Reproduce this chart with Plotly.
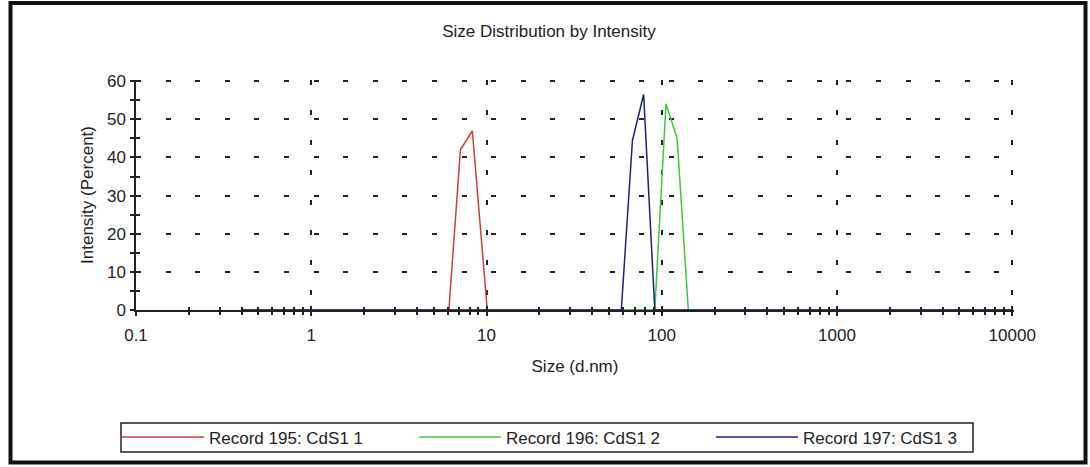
import plotly.graph_objects as go

# ---- data ----
size_195 = [0.4, 6.1, 7.1, 8.3, 10.1, 10000]
int_195 = [0, 0, 42, 47, 0, 0]

size_196 = [0.4, 91.28, 105.7, 122.4, 141.8, 10000]
int_196 = [0, 0, 54, 45, 0, 0]

size_197 = [0.4, 58.77, 68.06, 78.82, 91.28, 10000]
int_197 = [0, 0, 44.5, 56.5, 0, 0]

names = ["Record 195: CdS1 1", "Record 196: CdS1 2", "Record 197: CdS1 3"]
colors = ["#c8403c", "#3cc83c", "#1e1e78"]

x_ticks = [0.1, 1, 10, 100, 1000, 10000]
x_ticktext = ["0.1", "1", "10", "100", "1000", "10000"]
y_ticks = [0, 10, 20, 30, 40, 50, 60]
y_minor = [5, 15, 25, 35, 45, 55]
x_minor = [m * d for d in (0.1, 1, 10, 100, 1000) for m in range(2, 10)]

X_RANGE = [-1, 4.01]
Y_RANGE = [0, 60.3]

W, H = 1090, 467
L, R, T, B = 136, 76, 80, 157
PW, PH = W - L - R, H - T - B


def px_x(px):
    return (px - L) / PW


def px_y(py):
    return (H - B - py) / PH


INK = "#222222"

fig = go.Figure()
series = [(size_195, int_195), (size_196, int_196), (size_197, int_197)]
for (xs, ys), nm, col in zip(series, names, colors):
    fig.add_trace(go.Scatter(x=xs, y=ys, mode="lines", name=nm,
                             line=dict(color=col, width=1.5)))
fig.data[2].legendwidth = 165

# invisible helper trace for the overlay axes (crossing ticks)
fig.add_trace(go.Scatter(x=[], y=[], xaxis="x2", yaxis="y2", showlegend=False,
                         hoverinfo="skip"))

fig.update_layout(
    width=W, height=H,
    margin=dict(l=L, r=R, t=T, b=B, pad=0, autoexpand=False),
    paper_bgcolor="white", plot_bgcolor="white",
    font=dict(family="Liberation Sans, Arial, sans-serif", size=17, color=INK),
    title=dict(text="Size Distribution by Intensity", x=549 / W, xanchor="center",
               y=1 - 31 / H, yanchor="middle", yref="container",
               font=dict(size=17, color=INK)),
    showlegend=True,
    legend=dict(orientation="h", xref="container", yref="container",
                x=117 / W, xanchor="left", y=1 - 437.5 / H, yanchor="middle",
                borderwidth=0, bgcolor="rgba(0,0,0,0)",
                itemwidth=82, entrywidth=200, font=dict(size=17, color=INK),
                tracegroupgap=0),
    xaxis=dict(type="log", range=X_RANGE, tickvals=x_ticks, ticktext=x_ticktext,
               ticks="outside", ticklen=4, tickwidth=1.5, tickcolor=INK,
               showline=True, linecolor=INK, linewidth=1.5,
               showgrid=True, gridcolor=INK, gridwidth=1.5, griddash="5px,25px",
               zeroline=False, ticklabelstandoff=5,
               minor=dict(tickvals=x_minor, ticks="outside", ticklen=3, tickwidth=1.5,
                          tickcolor=INK, showgrid=False),
               title=dict(text="Size (d.nm)", standoff=16, font=dict(size=17))),
    yaxis=dict(range=Y_RANGE, tickvals=y_ticks,
               ticks="outside", ticklen=4, tickwidth=1.5, tickcolor=INK,
               showline=True, linecolor=INK, linewidth=1.5,
               showgrid=True, gridcolor=INK, gridwidth=1.5, griddash="5px,24.6px",
               zeroline=False, ticklabelstandoff=1,
               minor=dict(tickvals=y_minor, ticks="outside", ticklen=4, tickwidth=1.5,
                          tickcolor=INK, showgrid=False),
               title=dict(text="Intensity (Percent)", standoff=9, font=dict(size=17))),
    xaxis2=dict(type="log", range=X_RANGE, overlaying="x", anchor="y", side="bottom",
                tickvals=x_ticks, ticks="inside", ticklen=4, tickwidth=1.5, tickcolor=INK,
                showticklabels=False, showgrid=False, showline=False, zeroline=False,
                minor=dict(tickvals=x_minor, ticks="inside", ticklen=3, tickwidth=1.5,
                           tickcolor=INK, showgrid=False)),
    yaxis2=dict(range=Y_RANGE, overlaying="y", anchor="x", side="left",
                tickvals=y_ticks, ticks="inside", ticklen=4, tickwidth=1.5, tickcolor=INK,
                showticklabels=False, showgrid=False, showline=False, zeroline=False,
                minor=dict(tickvals=y_minor, ticks="inside", ticklen=4, tickwidth=1.5,
                           tickcolor=INK, showgrid=False)),
    shapes=[
        # outer frame
        dict(type="rect", xref="paper", yref="paper",
             x0=px_x(10.5), x1=px_x(1085.5), y0=px_y(462.5), y1=px_y(3),
             line=dict(color="#111111", width=4), fillcolor="rgba(0,0,0,0)",
             layer="below"),
        # legend box
        dict(type="rect", xref="paper", yref="paper",
             x0=px_x(121), x1=px_x(973), y0=px_y(452), y1=px_y(423),
             line=dict(color=INK, width=1.5), fillcolor="rgba(0,0,0,0)",
             layer="below"),
    ],
)

fig.write_html("out.html")
